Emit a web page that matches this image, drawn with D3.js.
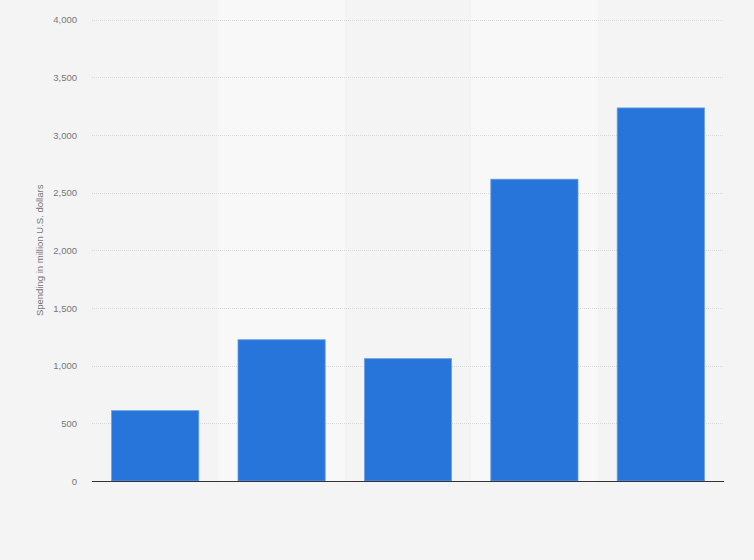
<!DOCTYPE html>
<html lang="en"><head>
<meta charset="utf-8">
<title>Spending</title>
<script src="https://cdn.jsdelivr.net/npm/d3@7"></script>
<style>
  body { margin: 0; background: #f4f4f4; }
  text { font-family: "Liberation Sans", Arial, sans-serif; }
</style>
</head>
<body>
<script type="text/javascript">

var width = 754;
var height = 560;

// no category labels are shown on the x axis
var categories = ["c1", "c2", "c3", "c4", "c5"];
var spending = [610, 1225, 1061, 2617, 3235];
var yTicks = [0, 500, 1000, 1500, 2000, 2500, 3000, 3500, 4000];
var yTitle = "Spending in million U.S. dollars";

var margin = {top: 19.7, right: 30, bottom: 79, left: 92};

var svg = d3.select("body").append("svg")
            .attr("width", width)
            .attr("height", height);

svg.append("rect")
    .attr("width", width)
    .attr("height", height)
    .attr("fill", "#f4f4f4");

var x = d3.scaleBand()
            .domain(categories)
            .range([margin.left, width - margin.right])
            .paddingInner(0.31)
            .paddingOuter(0.155);

var y = d3.scaleLinear()
            .domain([0, 4000])
            .range([height - margin.bottom, margin.top]);

var step = x.step();
var x0 = margin.left;

// lighter column bands behind every second category
svg.selectAll("rect.band")
    .data(categories.filter(function(d, i){ return i % 2 == 1; }))
    .enter()
    .append("rect")
    .attr("class", "band")
    .attr("x", function(d){ return x0 + categories.indexOf(d) * step; })
    .attr("y", 0)
    .attr("width", step)
    .attr("height", height - margin.bottom)
    .attr("fill", "#f8f8f8");

// grid lines
svg.selectAll("line.grid")
    .data(yTicks.slice(1))
    .enter()
    .append("line")
    .attr("class", "grid")
    .attr("x1", margin.left)
    .attr("x2", width - margin.right)
    .attr("y1", function(d){ return Math.round(y(d)) + 0.5; })
    .attr("y2", function(d){ return Math.round(y(d)) + 0.5; })
    .attr("stroke", "#dadada")
    .attr("stroke-width", 1)
    .attr("stroke-dasharray", "1,1");

var yAxis = d3.axisLeft(y)
                .tickValues(yTicks)
                .tickSize(0)
                .tickPadding(15)
                .tickFormat(d3.format(","));

var ya = svg.append("g")
    .attr("transform", "translate(" + margin.left + ",0)")
    .call(yAxis);
ya.select(".domain").remove();
ya.selectAll("text")
    .attr("fill", "#777777")
    .style("font-size", "9.5px");

svg.selectAll("rect.bar")
    .data(spending)
    .enter()
    .append("rect")
    .attr("class", "bar")
    .attr("x", function(d, i){ return x(categories[i]); })
    .attr("y", function(d){ return y(d); })
    .attr("width", x.bandwidth())
    .attr("height", function(d){ return y(0) - y(d); })
    .attr("fill", "#2775da")
    .attr("stroke", "#6c9fe3")
    .attr("stroke-width", 0.8);

// baseline
svg.append("line")
    .attr("x1", margin.left)
    .attr("x2", width - margin.right)
    .attr("y1", y(0) + 0.5)
    .attr("y2", y(0) + 0.5)
    .attr("stroke", "#333333")
    .attr("stroke-width", 1.2);

svg.append("text")
    .attr("transform", "translate(43," + ((margin.top + height - margin.bottom) / 2) + ") rotate(-90)")
    .attr("text-anchor", "middle")
    .attr("fill", "#777777")
    .style("font-size", "9.5px")
    .text(yTitle);

</script>
</body></html>
